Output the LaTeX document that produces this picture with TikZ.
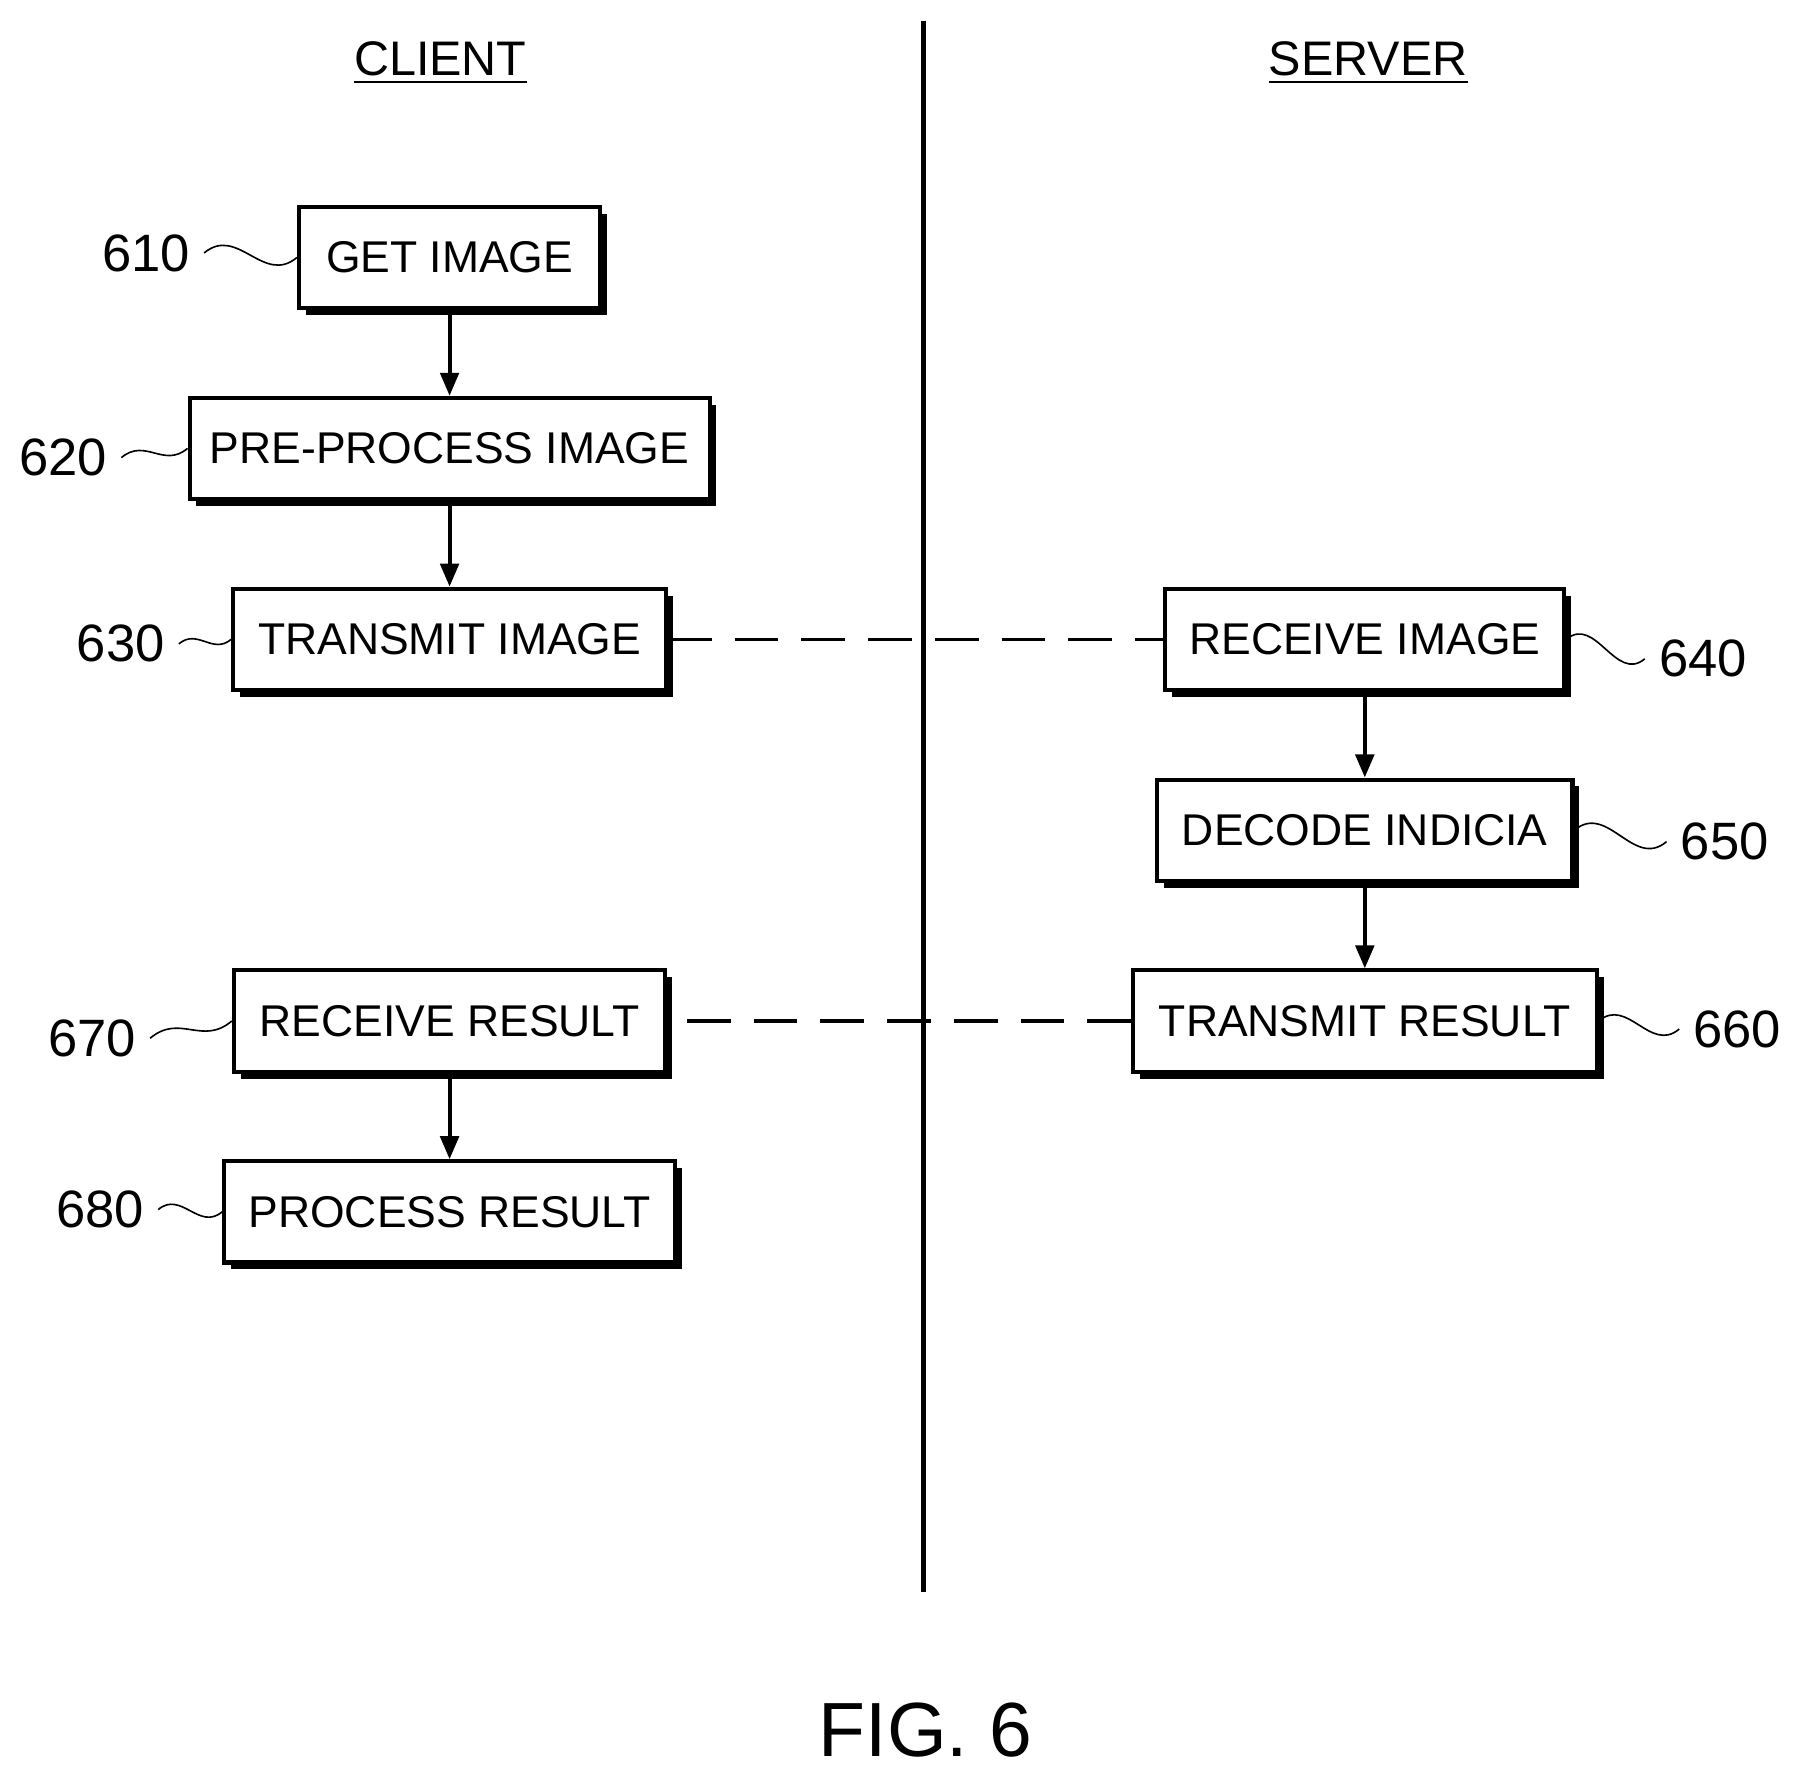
\documentclass[tikz,border=0pt]{standalone}
\usepackage{fontspec}
\setmainfont{Liberation Sans}
\usetikzlibrary{arrows.meta,shadows}
\tikzset{
  stepbox/.style={draw, line width=1pt, fill=white, minimum height=0.88cm, inner xsep=2pt, font=\fontsize{11}{13}\selectfont,
    drop shadow={shadow xshift=0.06cm, shadow yshift=-0.06cm, opacity=1, fill=black}},
  ref/.style={font=\fontsize{13}{15}\selectfont},
  flow/.style={-{Triangle[length=0.2cm,width=0.16cm]}, line width=1pt},
  link/.style={dashed, dash pattern=on 0.38cm off 0.2cm, line width=0.8pt},
  lead/.style={line width=0.7pt, out=40, in=220, looseness=1.2}
}
\begin{document}
\begin{tikzpicture}[x=0.01cm, y=-0.01cm]
    \useasboundingbox (0,0) rectangle (1562,1540);

    % lanes
    \draw[line width=1.2pt] (803,18) -- (803,1385);
    \node[font=\fontsize{12}{14}\selectfont] (client) at (383,55) {\underline{CLIENT}};
    \node[font=\fontsize{12}{14}\selectfont] (server) at (1190,55) {\underline{SERVER}};

    % client steps
    \node[stepbox, minimum width=2.62cm] (s610) at (391,224) {GET IMAGE};
    \node[stepbox, minimum width=4.52cm] (s620) at (391,390) {PRE-PROCESS IMAGE};
    \node[stepbox, minimum width=3.76cm] (s630) at (391,556) {TRANSMIT IMAGE};
    \node[stepbox, minimum width=3.75cm] (s670) at (391,888) {RECEIVE RESULT};
    \node[stepbox, minimum width=3.92cm] (s680) at (391,1054) {PROCESS RESULT};

    % server steps
    \node[stepbox, minimum width=3.47cm] (s640) at (1187,556) {RECEIVE IMAGE};
    \node[stepbox, minimum width=3.61cm] (s650) at (1187,722) {DECODE INDICIA};
    \node[stepbox, minimum width=4.03cm] (s660) at (1187,888) {TRANSMIT RESULT};

    \draw[flow] (s610) -- (s620);
    \draw[flow] (s620) -- (s630);
    \draw[flow] (s640) -- (s650);
    \draw[flow] (s650) -- (s660);
    \draw[flow] (s670) -- (s680);
    \draw[link] (s630.east) -- (s640.west);
    \draw[link] (s660.west) -- (s670.east);

    % reference numbers
    \node[ref] (n610) at (127,220) {610};
    \node[ref] (n620) at (55,398) {620};
    \node[ref] (n630) at (105,560) {630};
    \node[ref] (n670) at (80,903) {670};
    \node[ref] (n680) at (87,1052) {680};
    \node[ref] (n640) at (1481,573) {640};
    \node[ref] (n650) at (1500,732) {650};
    \node[ref] (n660) at (1511,895) {660};
    \draw (n610.east) to[lead] (s610.west);
    \draw (n620.east) to[lead] (s620.west);
    \draw (n630.east) to[lead] (s630.west);
    \draw (n670.east) to[lead] (s670.west);
    \draw (n680.east) to[lead] (s680.west);
    \draw (s640.east) to[lead] (n640.west);
    \draw (s650.east) to[lead] (n650.west);
    \draw (s660.east) to[lead] (n660.west);

    \node[font=\fontsize{19}{22}\selectfont] (fig) at (805,1505) {FIG. 6};
\end{tikzpicture}
\end{document}
